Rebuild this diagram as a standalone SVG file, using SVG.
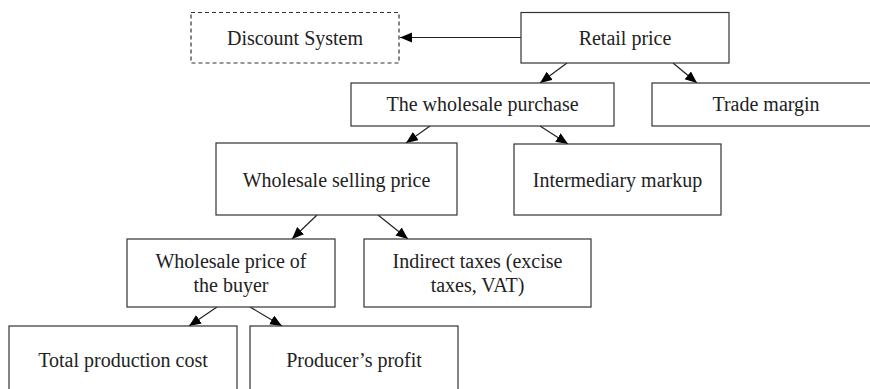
<svg xmlns="http://www.w3.org/2000/svg" width="870" height="389" viewBox="0 0 870 389">
  <defs>
    <marker id="arrow" markerUnits="userSpaceOnUse" markerWidth="14" markerHeight="12" refX="12" refY="5" orient="auto">
      <path d="M0,0 L12,5 L0,10 Z" fill="#000"/>
    </marker>
    <style>
      .box { fill: #fff; stroke: #333; stroke-width: 1.2; }
      .dashed { stroke-dasharray: 4 3; }
      .label { font-family: 'Liberation Serif', 'Times New Roman', serif; font-size: 20px; fill: #222; text-anchor: middle; }
      .edge { stroke: #222; stroke-width: 1.2; fill: none; marker-end: url(#arrow); }
    </style>
  </defs>

  <rect x="0" y="0" width="870" height="389" fill="#fff"/>

  <g id="connectors">
    <line class="edge" x1="521" y1="37.5" x2="400" y2="37.5"/>
    <line class="edge" x1="567" y1="63" x2="540" y2="83"/>
    <line class="edge" x1="673" y1="63" x2="697" y2="83"/>
    <line class="edge" x1="430" y1="126" x2="406" y2="143"/>
    <line class="edge" x1="540" y1="126" x2="568" y2="144"/>
    <line class="edge" x1="317" y1="215" x2="292" y2="239"/>
    <line class="edge" x1="378" y1="215" x2="408" y2="239"/>
    <line class="edge" x1="217" y1="307" x2="189" y2="326"/>
    <line class="edge" x1="250" y1="307" x2="282" y2="326"/>
  </g>

  <g id="discount-system">
    <rect class="box dashed" x="191" y="12.5" width="208" height="50.5"/>
    <text class="label" x="295" y="45">Discount System</text>
  </g>

  <g id="retail-price">
    <rect class="box" x="521" y="12.5" width="208" height="50.5"/>
    <text class="label" x="625" y="45">Retail price</text>
  </g>

  <g id="wholesale-purchase">
    <rect class="box" x="351" y="83" width="263" height="43"/>
    <text class="label" x="482.5" y="110.5">The wholesale purchase</text>
  </g>

  <g id="trade-margin">
    <rect class="box" x="652" y="83" width="230" height="43"/>
    <text class="label" x="766" y="111">Trade margin</text>
  </g>

  <g id="wholesale-selling-price">
    <rect class="box" x="216" y="143" width="241" height="72"/>
    <text class="label" x="336.5" y="187">Wholesale selling price</text>
  </g>

  <g id="intermediary-markup">
    <rect class="box" x="514" y="144" width="207" height="71"/>
    <text class="label" x="617.5" y="187">Intermediary markup</text>
  </g>

  <g id="wholesale-price-buyer">
    <rect class="box" x="127" y="239" width="208" height="68"/>
    <text class="label" x="231" y="268">Wholesale price of</text>
    <text class="label" x="231" y="292">the buyer</text>
  </g>

  <g id="indirect-taxes">
    <rect class="box" x="364" y="239" width="227" height="68"/>
    <text class="label" x="477.5" y="268">Indirect taxes (excise</text>
    <text class="label" x="477.5" y="292">taxes, VAT)</text>
  </g>

  <g id="total-production-cost">
    <rect class="box" x="9" y="326" width="228" height="80"/>
    <text class="label" x="123" y="367">Total production cost</text>
  </g>

  <g id="producers-profit">
    <rect class="box" x="250" y="326" width="208" height="80"/>
    <text class="label" x="354" y="367">Producer’s profit</text>
  </g>
</svg>
